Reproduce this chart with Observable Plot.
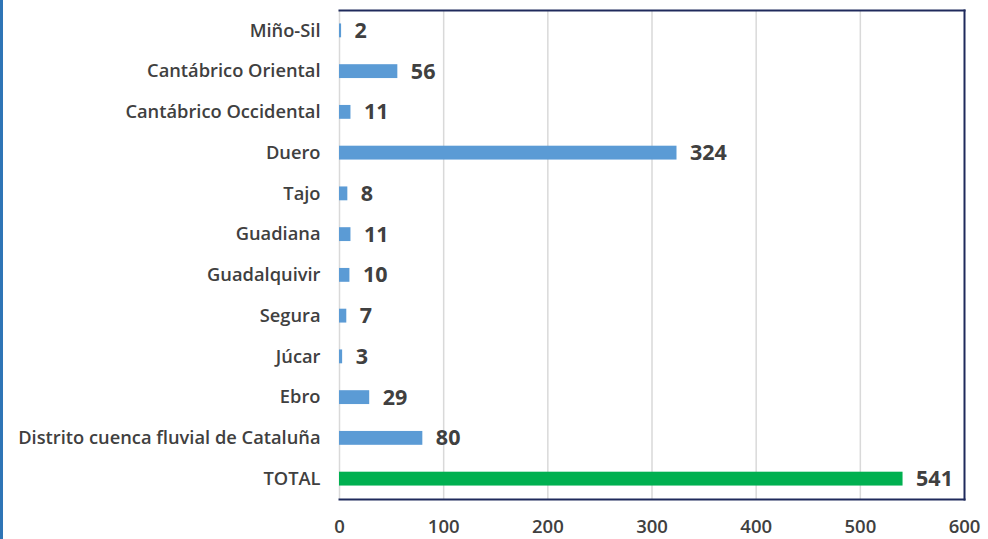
<!DOCTYPE html>
<html>
<head>
<meta charset="utf-8">
<script src="https://cdn.jsdelivr.net/npm/d3@7"></script>
<script src="https://cdn.jsdelivr.net/npm/@observablehq/plot@0.6"></script>
<style>
  html, body { margin: 0; padding: 0; background: #fff; }
  body { width: 988px; height: 539px; overflow: hidden; position: relative; }
  #edge { position: absolute; left: 0; top: 0; width: 3px; height: 539px; background: #2E75B6; }
  #chart { position: absolute; left: 0; top: 0; }
  svg { font-family: "Open Sans", sans-serif; }
</style>
</head>
<body>
<div id="edge"></div>
<div id="chart"></div>
<script>
const categories = ["Miño-Sil", "Cantábrico Oriental", "Cantábrico Occidental", "Duero", "Tajo", "Guadiana", "Guadalquivir", "Segura", "Júcar", "Ebro", "Distrito cuenca fluvial de Cataluña", "TOTAL"];
const values = [2, 56, 11, 324, 8, 11, 10, 7, 3, 29, 80, 541];
const xTicks = [0, 100, 200, 300, 400, 500, 600];

const data = categories.map((c, i) => ({cat: c, value: values[i], total: c === "TOTAL"}));

const chart = Plot.plot({
  width: 988,
  height: 539,
  marginLeft: 339,
  marginRight: 24,
  marginTop: 10,
  marginBottom: 40,
  style: {background: "transparent", color: "#404040"},
  x: {domain: [0, 600], ticks: xTicks, label: null},
  y: {domain: categories, paddingInner: 0.66, paddingOuter: 0.33, round: false, label: null},
  marks: [
    Plot.gridX(xTicks.slice(0, -1), {stroke: "#D9D9D9", strokeOpacity: 1, strokeWidth: 1.5}),
    Plot.barX(data, {x: "value", y: "cat", fill: d => d.total ? "#00B050" : "#5B9BD5"}),
    Plot.text(data, {x: "value", y: "cat", text: d => String(d.value), textAnchor: "start", dx: 13, fill: "#404040", fontSize: 21.5, fontWeight: "bold"}),
    Plot.axisY({tickSize: 0, tickPadding: 19, fontSize: 18.3, fontWeight: 600, fill: "#404040"}),
    Plot.axisX({ticks: xTicks, tickSize: 0, tickPadding: 20, fontSize: 18.5, fontWeight: 600, fill: "#404040"}),
    Plot.frame({anchor: "top", stroke: "#1F2A5C", strokeWidth: 2}),
    Plot.frame({anchor: "right", stroke: "#1F2A5C", strokeWidth: 2}),
    Plot.frame({anchor: "bottom", stroke: "#1F2A5C", strokeWidth: 2})
  ]
});
document.getElementById("chart").appendChild(chart);
</script>
</body>
</html>
